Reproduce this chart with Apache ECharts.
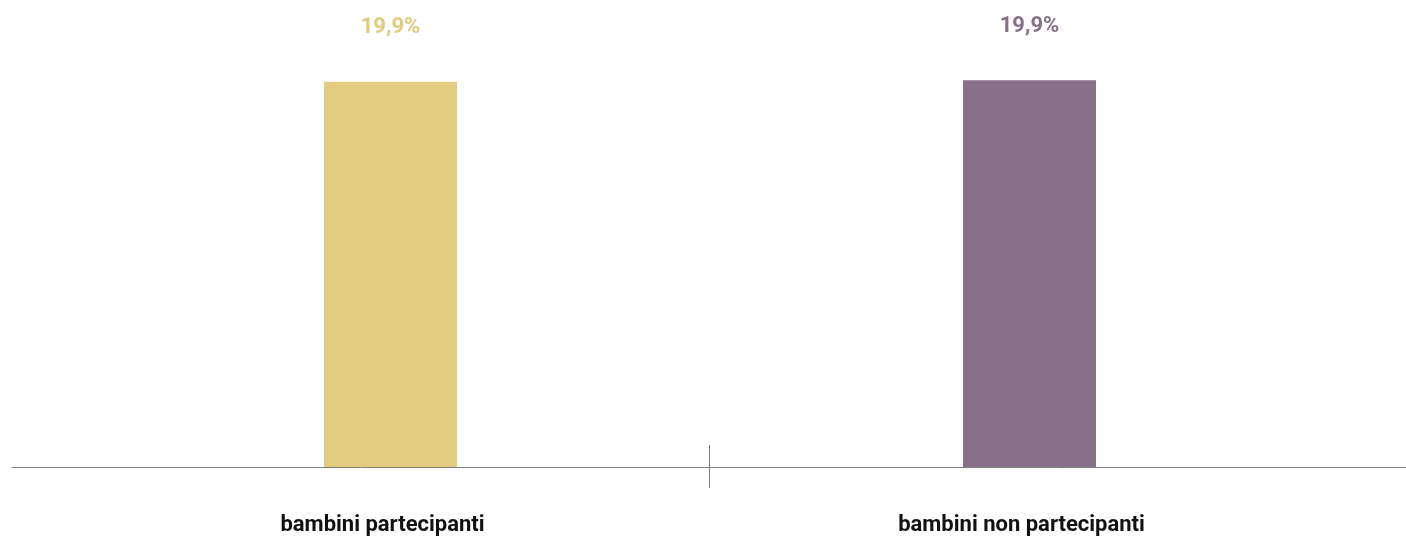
<!DOCTYPE html>
<html>
<head>
<meta charset="utf-8">
<script src="https://cdn.jsdelivr.net/npm/echarts@6/dist/echarts.min.js"></script>
<style>
    html, body { margin: 0; padding: 0; background: #fff; }
    #chart { width: 1406px; height: 536px; }
</style>
</head>
<body>
<div id="chart"></div>
<script>
    var categories = ['bambini partecipanti', 'bambini non partecipanti'];
    var values = [19.86, 19.94];
    var barColors = ['#E2CB7E', '#877088'];

    var fmt = function (v) { return v.toFixed(1).replace('.', ',') + '%' };

    var data = values.map(function (v, i) {
        return {
            value: v,
            itemStyle: { color: barColors[i] },
            label: { color: barColors[i] }
        }
    });

    var chart = echarts.init(document.getElementById('chart'));
    chart.setOption({
        animation: false,
        grid: [
            { left: 71, right: 57, top: 79, bottom: 69 },
            { left: 12, right: 0, top: 79, bottom: 69 },
            { left: 12, right: 0, top: 79, bottom: 69 }
        ],
        xAxis: [
            {
                type: 'category', gridIndex: 0, data: categories,
                axisLine: { show: false },
                axisTick: { show: false },
                axisLabel: {
                    margin: 47,
                    padding: [0, 16, 0, 0],
                    color: '#111',
                    fontFamily: 'Roboto',
                    fontWeight: 'bold',
                    fontSize: 22
                }
            },
            {
                // full width base line with the divider tick below it
                type: 'category', gridIndex: 1, data: ['', '', ''], boundaryGap: false,
                axisLine: { lineStyle: { color: '#7f7f7f', width: 1 } },
                axisTick: {
                    length: 21,
                    interval: function (i) { return i === 1 },
                    lineStyle: { color: '#7f7f7f' }
                },
                axisLabel: { show: false }
            },
            {
                // divider tick above the line
                type: 'category', gridIndex: 2, data: ['', '', ''], boundaryGap: false,
                axisLine: { show: false },
                axisTick: {
                    inside: true,
                    length: 22,
                    interval: function (i) { return i === 1 },
                    lineStyle: { color: '#7f7f7f' }
                },
                axisLabel: { show: false }
            }
        ],
        yAxis: [
            { type: 'value', gridIndex: 0, min: 0, max: 20, show: false },
            { type: 'value', gridIndex: 1, show: false },
            { type: 'value', gridIndex: 2, show: false }
        ],
        series: [{
            type: 'bar',
            xAxisIndex: 0,
            yAxisIndex: 0,
            barWidth: 133,
            data: data,
            label: {
                show: true,
                position: 'top',
                distance: 43,
                fontFamily: 'Roboto',
                fontWeight: 'bold',
                fontSize: 22,
                formatter: function (p) { return fmt(p.value) }
            }
        }]
    });
</script>
</body>
</html>
